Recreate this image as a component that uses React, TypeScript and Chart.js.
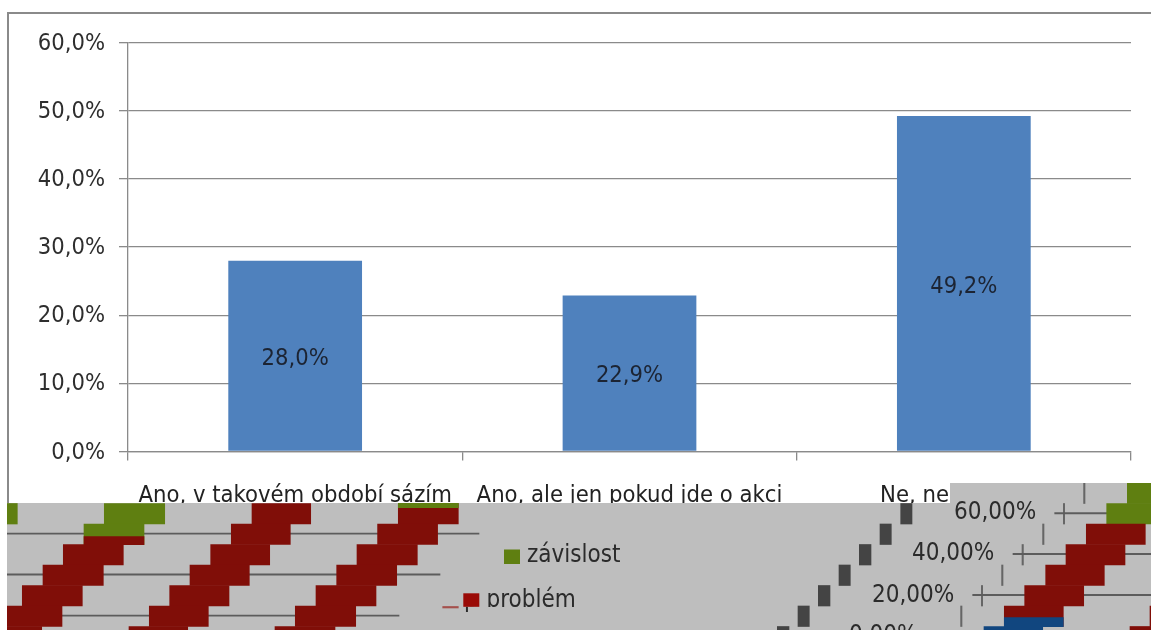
import React, { useEffect, useRef } from "react";
import { Chart, registerables } from "chart.js";

Chart.register(...registerables);

// Survey answers and the share of respondents for each.
const categories = ["Ano, v takovém období sázím", "Ano, ale jen pokud jde o akci", "Ne, nesázím víc"];
const shares = [28.0, 22.9, 49.2];
const yTicks = [0, 10, 20, 30, 40, 50, 60];

// Second, broken-up stacked chart laid over the lower edge: [row, from, to].
type Seg = [number, number, number];
const redSteps: Seg[] = [
  [1, 252, 310.7], [1, 398.3, 458.3],
  [2, 231.3, 290.3], [2, 377.6, 437.6], [2, 1086.3, 1145.3],
  [3, 63.3, 123.3], [3, 210.7, 269.7], [3, 357, 417.3], [3, 1066, 1125],
  [4, 43, 103.3], [4, 190, 249.3], [4, 336.7, 396.7], [4, 1045.7, 1104.3],
  [5, 22.3, 82.3], [5, 169.7, 229], [5, 316, 376], [5, 1024.7, 1083.7],
  [6, 7, 62], [6, 149.3, 208.3], [6, 295.3, 355.7], [6, 1004.3, 1063.3], [6, 1150, 1151],
  [7, 7, 41.7], [7, 129, 187.7], [7, 275, 335], [7, 1130, 1151],
];
const greenSteps: Seg[] = [
  [0, 1127.3, 1151],
  [1, 7, 17.3], [1, 104.3, 164.7], [1, 1106.7, 1151],
  [2, 84, 144],
];
const darkSteps: Seg[] = [
  [1, 900.7, 912], [2, 880, 891.3], [3, 859.3, 871], [4, 839, 850.3],
  [5, 818.3, 830], [6, 798, 809.3], [7, 777.3, 789],
];
const blueSteps: Seg[] = [[7, 984, 1042.7]];
const tickStubs: Seg[] = [
  [0, 1083.6, 1085], [1, 1063.3, 1064.7], [2, 1042.6, 1044], [3, 1022, 1023.4],
  [4, 1001.6, 1003], [5, 981.3, 982.7], [6, 960.6, 962],
];
// Partial steps: [row position, from, to].
const greenCaps: Seg[] = [[1.1, 398.3, 458.3]];
const redCaps: Seg[] = [[2.81, 84, 144]];
const blueCaps: Seg[] = [[6.79, 1004.3, 1063.3]];
const gridRules: Seg[] = [
  [2.47, 7, 479], [4.46, 7, 440], [6.47, 62, 399],
  [1.48, 1054.7, 1107], [3.46, 1013, 1151], [5.46, 972.7, 1151],
];
const legendDash: Seg[] = [[6.06, 442.7, 458.3]];
const overlayTicks = ["60,00%", "40,00%", "20,00%", "0,00%"];
const overlayLegend = ["závislost", "problém"];

const asPoints = (segs: Seg[]) => segs.map(([row, from, to]) => ({ y: row, x: [from, to] }));
const asRows = (segs: Seg[]) => segs.map(([row, from, to]) => ({ y: row + 0.5, x: [from, to] }));

const axisGrey = "#8a8a8a";
const labelFont = "'DejaVu Sans Condensed', 'DejaVu Sans'";

// Writes each share at the middle of its column.
const shareLabels = {
  id: "shareLabels",
  afterDatasetsDraw(chart: any) {
    const { ctx } = chart;
    ctx.save();
    ctx.font = `23.5px ${labelFont}`;
    ctx.fillStyle = "#1c2433";
    ctx.textAlign = "center";
    ctx.textBaseline = "middle";
    chart.getDatasetMeta(0).data.forEach((bar: any, i: number) => {
      ctx.fillText(`${shares[i].toFixed(1).replace(".", ",")}%`, bar.x, (bar.y + bar.base) / 2 + 3);
    });
    ctx.restore();
  },
};

// Legend swatches and the displaced axis labels of the overlaid chart.
const overlayText = {
  id: "overlayText",
  afterDraw(chart: any) {
    const { ctx } = chart;
    const ox = 7;
    const oy = 483;
    ctx.save();
    ctx.translate(-ox, -oy);
    ctx.fillStyle = "#2b2b2b";
    ctx.textBaseline = "middle";
    ctx.textAlign = "left";
    ctx.font = `24px ${labelFont}`;
    const tickPos = [[954, 513], [912, 553.5], [872, 595.5], [849, 636]];
    overlayTicks.forEach((t, i) => ctx.fillText(t, tickPos[i][0], tickPos[i][1]));

    ctx.fillStyle = "#5f7f11";
    ctx.fillRect(504, 549.5, 16, 14.5);
    ctx.fillStyle = "#2b2b2b";
    ctx.fillText(overlayLegend[0], 527, 556);

    ctx.save();
    ctx.beginPath();
    ctx.rect(480, 585, 120, 22);
    ctx.clip();
    ctx.fillText(overlayLegend[1], 486.5, 601);
    ctx.restore();

    ctx.save();
    ctx.beginPath();
    ctx.rect(460, 606.8, 20, 8);
    ctx.clip();
    ctx.fillText(overlayLegend[1].charAt(0), 464, 601);
    ctx.restore();

    ctx.fillStyle = "#9a0a06";
    ctx.fillRect(463.3, 593.3, 16, 13.5);
    ctx.restore();
  },
};

export default function App() {
  const mainRef = useRef<HTMLCanvasElement>(null);
  const overlayRef = useRef<HTMLCanvasElement>(null);

  useEffect(() => {
    const main = new Chart(mainRef.current!, {
      type: "bar",
      data: {
        labels: categories,
        datasets: [
          {
            data: shares,
            backgroundColor: "#4f81bd",
            barPercentage: 0.4,
            categoryPercentage: 1,
          },
        ],
      },
      options: {
        animation: false,
        responsive: false,
        layout: { padding: { top: 42.5, right: 20, left: 0, bottom: 0 } },
        plugins: { legend: { display: false }, tooltip: { enabled: false } },
        scales: {
          x: {
            afterFit: (s: any) => { s.height = 178.5; },
            grid: { color: axisGrey, tickLength: 9, drawOnChartArea: false, lineWidth: 1.3 },
            border: { color: axisGrey, width: 1.3 },
            ticks: {
              font: { family: labelFont, size: 23.6 },
              color: "#222222",
              padding: 21,
              maxRotation: 0,
              minRotation: 0,
              autoSkip: false,
            },
          },
          y: {
            min: yTicks[0],
            max: yTicks[yTicks.length - 1],
            afterFit: (s: any) => { s.width = 128; },
            grid: { color: axisGrey, tickLength: 9, lineWidth: 1.3 },
            border: { color: axisGrey, width: 1.3 },
            ticks: {
              stepSize: 10,
              font: { family: labelFont, size: 23.5 },
              color: "#2e2e2e",
              padding: 14,
              labelOffset: 1,
              callback: (v: any) => `${Number(v).toFixed(1).replace(".", ",")}%`,
            },
          },
        },
      },
      plugins: [shareLabels],
    } as any);

    const barSet = (segs: any[], color: string, thickness: number, order: number) => ({
      data: segs,
      backgroundColor: color,
      barThickness: thickness,
      order,
      stack: "overlay",
    });

    const overlay = new Chart(overlayRef.current!, {
      type: "bar",
      data: {
        datasets: [
          barSet(asPoints(gridRules), "#5c5c5c", 1.3, 9),
          barSet(asRows(tickStubs), "#666666", 20.5, 9),
          barSet(asPoints(legendDash), "#a5504c", 1.5, 8),
          barSet(asRows(redSteps), "#800e08", 20.5, 5),
          barSet(asRows(greenSteps), "#5f7f11", 20.5, 5),
          barSet(asRows(darkSteps), "#444444", 20.5, 5),
          barSet(asRows(blueSteps), "#11467f", 20.5, 5),
          barSet(asPoints(greenCaps), "#5f7f11", 4.4, 1),
          barSet(asPoints(redCaps), "#800e08", 8, 1),
          barSet(asPoints(blueCaps), "#11467f", 9, 1),
        ],
      },
      options: {
        animation: false,
        responsive: false,
        indexAxis: "y",
        layout: { padding: 0 },
        plugins: { legend: { display: false }, tooltip: { enabled: false } },
        scales: {
          x: { type: "linear", display: false, stacked: false, min: 7, max: 1151 },
          y: { type: "linear", display: false, min: 0, max: 8, reverse: true, offset: false, grid: { offset: false } },
        },
      },
      plugins: [overlayText],
    } as any);

    return () => {
      main.destroy();
      overlay.destroy();
    };
  }, []);

  const abs = (left: number, top: number, width: number, height: number, extra: object = {}) =>
    ({ position: "absolute", left, top, width, height, ...extra }) as React.CSSProperties;

  return (
    <div style={{ position: "fixed", left: 0, top: 0, width: 1151, height: 630, overflow: "hidden", background: "#ffffff" }}>
      <canvas ref={mainRef} width={1151} height={630} style={abs(0, 0, 1151, 630)} />
      <div style={abs(7, 12, 2000, 1000, { border: "2px solid #8a8a8a" })} />
      <div style={abs(7, 503, 1144, 127, { background: "#bebebe" })} />
      <div style={abs(950, 483, 201, 20, { background: "#bebebe" })} />
      <canvas ref={overlayRef} width={1144} height={164} style={abs(7, 483, 1144, 164)} />
    </div>
  );
}
